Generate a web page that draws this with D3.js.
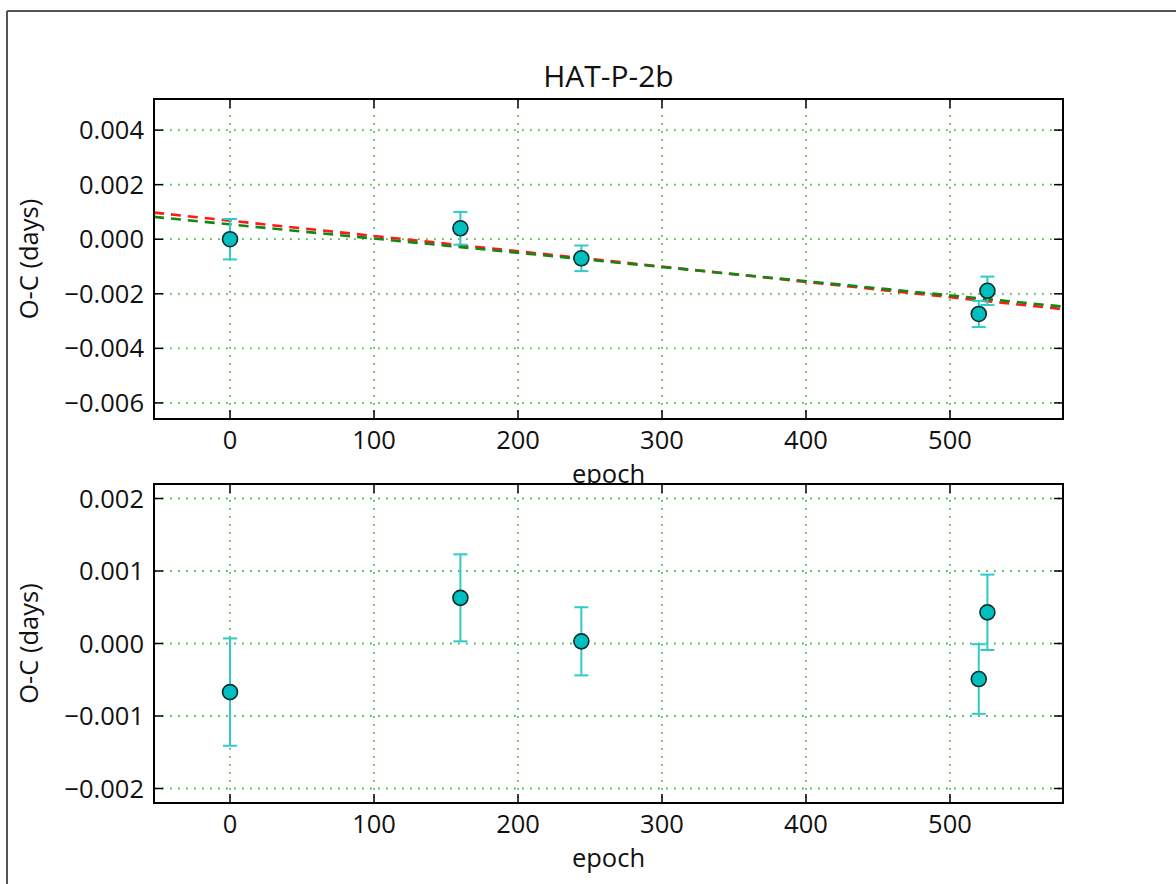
<!DOCTYPE html>
<html>
<head>
<meta charset="utf-8">
<script src="https://cdn.jsdelivr.net/npm/d3@7"></script>
<style>
  html, body { margin: 0; padding: 0; background: #fff; }
  svg { display: block; }
  text { font-family: "Open Sans", "Noto Sans", "DejaVu Sans", sans-serif; fill: #111; }
</style>
</head>
<body>
<script>
// Transit timing of HAT-P-2b: observed minus calculated mid-transit times
const epochs    = [0, 160, 244, 520, 526];
const ocDays    = [0.0, 0.0004, -0.0007, -0.00274, -0.00189];
const errDays   = [0.00074, 0.0006, 0.00047, 0.00048, 0.00052];
const residDays = [-0.00067, 0.00063, 0.00003, -0.00049, 0.00043];

// linear ephemeris corrections: [intercept, slope per epoch]
const fitRed   = [0.00068, -5.61e-6];
const fitGreen = [0.000545, -5.21e-6];

const xTicks      = [0, 100, 200, 300, 400, 500];
const yTicksTop   = [0.004, 0.002, 0.0, -0.002, -0.004, -0.006];
const yTicksBot   = [0.002, 0.001, 0.0, -0.001, -0.002];

const W = 1176, H = 884;
const svg = d3.select("body").append("svg").attr("width", W).attr("height", H);

// outer figure frame (left and top edges)
svg.append("line").attr("x1", 7).attr("y1", 11).attr("x2", 7).attr("y2", H)
  .attr("stroke", "#555").attr("stroke-width", 2);
svg.append("line").attr("x1", 7).attr("y1", 11).attr("x2", W).attr("y2", 11)
  .attr("stroke", "#555").attr("stroke-width", 2);

const left = 154, right = 1063;
const xDomain = [-52.8, 578.5];
const minus = s => s.replace("-", "\u2212");
const tickFont = 25.5;

function panel(top, bottom, yDomain, yTicks, yFmt, values, fits, title) {
  const x = d3.scaleLinear().domain(xDomain).range([left, right]);
  const y = d3.scaleLinear().domain(yDomain).range([bottom, top]);
  const g = svg.append("g");

  g.append("rect").attr("x", left).attr("y", top)
    .attr("width", right - left).attr("height", bottom - top).attr("fill", "#fff");

  // dotted grid
  const grid = g.append("g").attr("stroke", "#3fb53f").attr("stroke-width", 1.8)
    .attr("stroke-dasharray", "1.8,6.2").attr("stroke-opacity", 0.9);
  xTicks.forEach(t => grid.append("line").attr("x1", x(t)).attr("x2", x(t))
    .attr("y1", top).attr("y2", bottom));
  yTicks.forEach(t => grid.append("line").attr("x1", left).attr("x2", right)
    .attr("y1", y(t)).attr("y2", y(t)));

  // fitted ephemeris lines
  fits.forEach(f => {
    g.append("line")
      .attr("x1", x(xDomain[0])).attr("y1", y(f.p[0] + f.p[1] * xDomain[0]))
      .attr("x2", x(xDomain[1])).attr("y2", y(f.p[0] + f.p[1] * xDomain[1]))
      .attr("stroke", f.color).attr("stroke-width", 2.6).attr("stroke-dasharray", "10,7");
  });

  // error bars
  const eb = g.append("g").attr("stroke", "#2fcaca").attr("stroke-width", 2);
  epochs.forEach((e, i) => {
    const y0 = y(values[i] - errDays[i]), y1 = y(values[i] + errDays[i]), cx = x(e);
    eb.append("line").attr("x1", cx).attr("x2", cx).attr("y1", y0).attr("y2", y1);
    eb.append("line").attr("x1", cx - 7).attr("x2", cx + 7).attr("y1", y0).attr("y2", y0);
    eb.append("line").attr("x1", cx - 7).attr("x2", cx + 7).attr("y1", y1).attr("y2", y1);
  });

  // markers
  g.append("g").selectAll("circle").data(epochs).join("circle")
    .attr("cx", d => x(d)).attr("cy", (d, i) => y(values[i])).attr("r", 7.5)
    .attr("fill", "#00bfbf").attr("stroke", "#0d2b2b").attr("stroke-width", 1.6);

  // ticks pointing inward on all four sides
  const ax = g.append("g").attr("stroke", "#000").attr("stroke-width", 1.5);
  const tl = 9;
  xTicks.forEach(t => {
    ax.append("line").attr("x1", x(t)).attr("x2", x(t)).attr("y1", bottom).attr("y2", bottom - tl);
    ax.append("line").attr("x1", x(t)).attr("x2", x(t)).attr("y1", top).attr("y2", top + tl);
  });
  yTicks.forEach(t => {
    ax.append("line").attr("x1", left).attr("x2", left + tl).attr("y1", y(t)).attr("y2", y(t));
    ax.append("line").attr("x1", right).attr("x2", right - tl).attr("y1", y(t)).attr("y2", y(t));
  });

  g.append("rect").attr("x", left).attr("y", top)
    .attr("width", right - left).attr("height", bottom - top)
    .attr("fill", "none").attr("stroke", "#000").attr("stroke-width", 2);

  // tick labels
  xTicks.forEach(t => g.append("text").attr("x", x(t)).attr("y", bottom + 30)
    .attr("text-anchor", "middle").attr("font-size", tickFont).text(t));
  yTicks.forEach(t => g.append("text").attr("x", left - 10).attr("y", y(t) + 9)
    .attr("text-anchor", "end").attr("font-size", tickFont).text(minus(yFmt(t))));

  // axis titles
  g.append("text").attr("x", (left + right) / 2).attr("y", bottom + 64)
    .attr("text-anchor", "middle").attr("font-size", tickFont).text("epoch");
  g.append("text").attr("transform", `translate(38,${(top + bottom) / 2}) rotate(-90)`)
    .attr("text-anchor", "middle").attr("font-size", tickFont).text("O-C (days)");

  if (title) {
    g.append("text").attr("x", (left + right) / 2).attr("y", top - 12)
      .attr("text-anchor", "middle").attr("font-size", 30).text(title);
  }
}

panel(99, 419, [-0.00659, 0.00514], yTicksTop, d3.format(".3f"), ocDays,
  [{ p: fitRed, color: "#ff1a1a" }, { p: fitGreen, color: "#118811" }], "HAT-P-2b");
panel(484, 803, [-0.0022, 0.0022], yTicksBot, d3.format(".3f"), residDays, [], null);
</script>
</body>
</html>
